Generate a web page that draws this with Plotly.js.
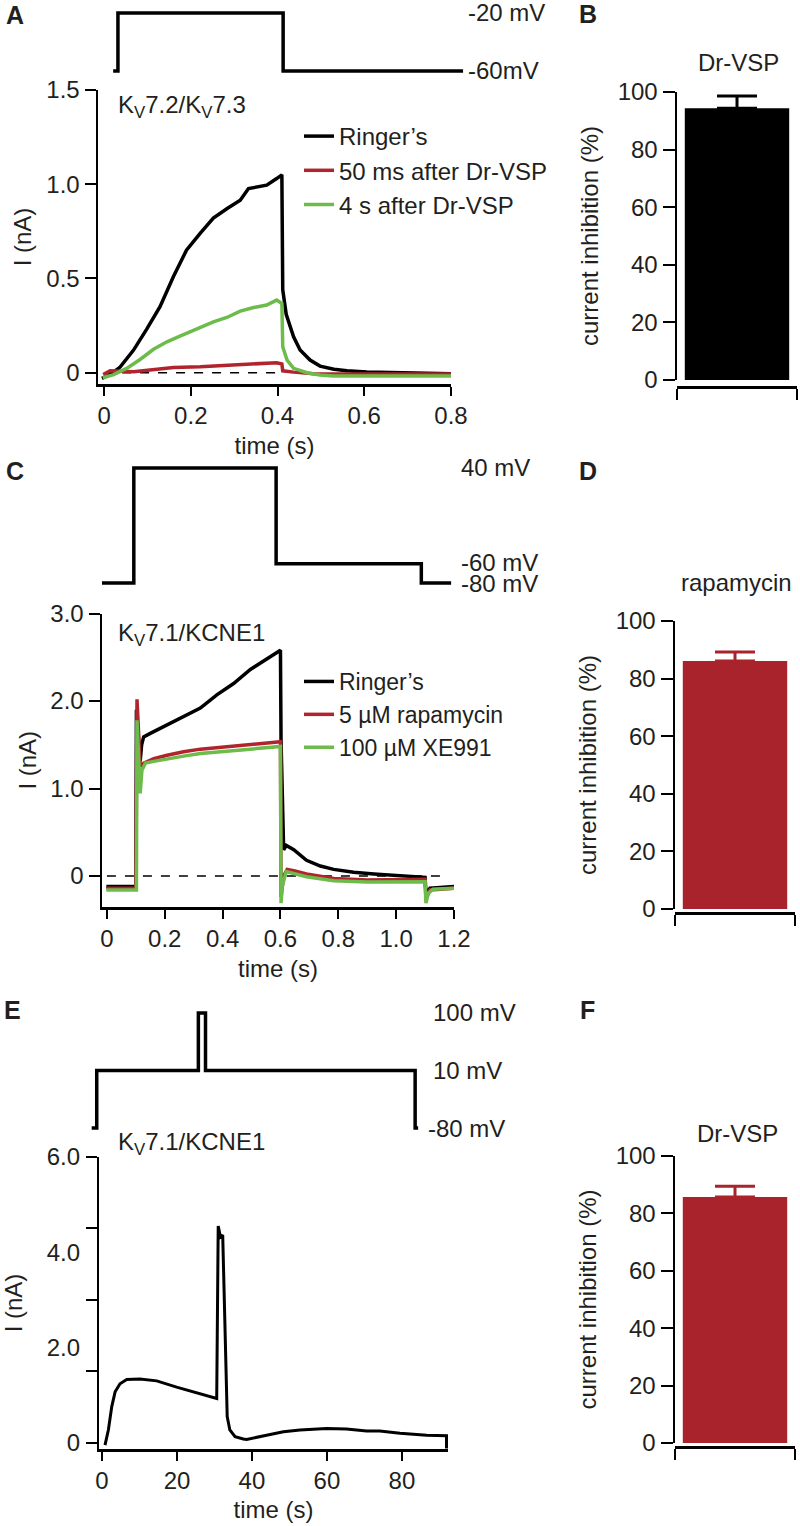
<!DOCTYPE html>
<html>
<head>
<meta charset="utf-8">
<script src="https://cdn.plot.ly/plotly-3.0.1.min.js"></script>
<style>html,body{margin:0;padding:0;background:#fff;}#chart{width:800px;height:1526px;}</style>
</head>
<body>
<div id="chart"></div>
<script>
// ---------------- DATA ----------------
// Panel A: Kv7.2/Kv7.3 currents (time s, current nA)
const A_ringer_t = [-0.005,0.014,0.037,0.068,0.098,0.129,0.16,0.19,0.222,0.252,0.283,0.314,0.333,0.36,0.375,0.398,0.41,0.412,0.42,0.437,0.452,0.475,0.498,0.53,0.56,0.606,0.7,0.8];
const A_ringer_i = [-0.03,-0.01,0.03,0.12,0.23,0.35,0.51,0.65,0.74,0.82,0.87,0.915,0.977,0.986,0.995,1.03,1.05,0.44,0.31,0.19,0.12,0.067,0.035,0.018,0.01,0.004,0.0,-0.005];
const A_50ms_t = [-0.002,0.014,0.068,0.114,0.16,0.222,0.3,0.36,0.398,0.41,0.412,0.437,0.49,0.6,0.8];
const A_50ms_i = [-0.01,0.01,0.005,0.018,0.028,0.032,0.04,0.046,0.053,0.046,0.01,0.003,-0.007,-0.007,-0.007];
const A_4s_t = [-0.003,0.022,0.052,0.083,0.114,0.145,0.175,0.206,0.229,0.252,0.283,0.314,0.345,0.375,0.398,0.41,0.412,0.422,0.437,0.468,0.498,0.529,0.7,0.8];
const A_4s_i = [-0.027,-0.01,0.023,0.07,0.124,0.164,0.194,0.226,0.25,0.27,0.293,0.327,0.346,0.359,0.385,0.367,0.138,0.067,0.023,0.0,-0.012,-0.018,-0.018,-0.018];
const A_zero_t = [0, 0.4];
const A_zero_i = [0, 0];
const A_protocol_t = [0.021,0.032,0.032,0.413,0.413,0.828];
const A_protocol_mV = [-60,-60,-20,-20,-60,-60];

// Panel C: Kv7.1/KCNE1 currents
const C_ringer_t = [-0.002,0.1,0.102,0.108,0.115,0.12,0.127,0.15,0.208,0.265,0.323,0.38,0.438,0.496,0.554,0.6,0.602,0.611,0.62,0.646,0.69,0.738,0.784,0.853,0.923,0.992,1.1,1.103,1.117,1.2];
const C_ringer_i = [-0.12,-0.12,1.9,1.6,1.31,1.5,1.59,1.63,1.73,1.82,1.92,2.07,2.2,2.36,2.48,2.58,1.55,0.3,0.35,0.3,0.18,0.114,0.076,0.042,0.023,0.008,-0.015,-0.2,-0.14,-0.12];
const C_rapa_t = [-0.002,0.1,0.104,0.115,0.127,0.162,0.208,0.265,0.323,0.438,0.554,0.6,0.602,0.611,0.623,0.646,0.69,0.784,0.9,1.1,1.103,1.117,1.2];
const C_rapa_i = [-0.14,-0.14,2.02,1.25,1.29,1.34,1.38,1.42,1.45,1.48,1.52,1.535,-0.24,0.0,0.076,0.06,0.023,-0.027,-0.046,-0.038,-0.26,-0.16,-0.14];
const C_xe_t = [-0.002,0.102,0.104,0.115,0.121,0.133,0.162,0.208,0.265,0.323,0.438,0.554,0.6,0.602,0.606,0.62,0.646,0.69,0.784,0.9,1.1,1.103,1.111,1.127,1.2];
const C_xe_i = [-0.16,-0.16,1.78,0.945,1.21,1.29,1.31,1.34,1.37,1.4,1.43,1.46,1.48,-0.31,-0.12,0.05,0.03,-0.008,-0.053,-0.069,-0.065,-0.31,-0.2,-0.15,-0.14];
const C_zero_t = [0, 1.18];
const C_zero_i = [0, 0];
const C_protocol_t = [-0.017,0.093,0.093,0.585,0.585,1.087,1.087,1.19];
const C_protocol_mV = [-80,-80,40,40,-60,-60,-80,-80];

// Panel E: Kv7.1/KCNE1 long recording
const E_t = [0.8,1.7,2.6,3.5,4.8,6.6,10.1,14.6,19.9,25.2,29.7,30.6,31.0,31.6,32.2,32.9,33.4,34.1,35.5,37.7,38.6,43.9,48.4,52.8,59.9,65.2,70.6,74.1,79.5,86.6,91.9,91.9];
const E_i = [-0.05,0.27,0.76,1.07,1.24,1.33,1.34,1.30,1.17,1.05,0.95,0.93,4.55,4.32,4.36,2.15,0.55,0.27,0.13,0.08,0.07,0.16,0.23,0.27,0.30,0.29,0.25,0.25,0.20,0.16,0.15,-0.12];
const E_protocol_t = [-2.75,-1.4,-1.4,25.7,25.7,27.6,27.6,83.5,83.5,84.3];
const E_protocol_mV = [-80,-80,10,10,100,100,10,10,-80,-80];

// Bar panels: current inhibition (%)
const B_category = ['Dr-VSP'];
const B_value = [94.4];
const B_error = [4.2];
const D_category = ['rapamycin'];
const D_value = [86.1];
const D_error = [3.1];
const F_category = ['Dr-VSP'];
const F_value = [85.7];
const F_error = [3.8];

// Tick labels
const A_xticks = [0,0.2,0.4,0.6,0.8], A_xlabels = ['0','0.2','0.4','0.6','0.8'];
const A_yticks = [0,0.5,1.0,1.5], A_ylabels = ['0','0.5','1.0','1.5'];
const C_xticks = [0,0.2,0.4,0.6,0.8,1.0,1.2], C_xlabels = ['0','0.2','0.4','0.6','0.8','1.0','1.2'];
const C_yticks = [0,1,2,3], C_ylabels = ['0','1.0','2.0','3.0'];
const E_xticks = [0,20,40,60,80], E_xlabels = ['0','20','40','60','80'];
const E_ytickmarks = [0,1.5,3,4.5,6];
const E_yticks = [0,2,4,6], E_ylabels = ['0','2.0','4.0','6.0'];
const bar_yticks = [0,20,40,60,80,100], bar_ylabels = ['0','20','40','60','80','100'];

// ---------------- STYLE ----------------
const W = 800, H = 1526;
const FONT = 'Liberation Sans, Arial, Helvetica, sans-serif';
const TXT = '#231f20';
const BLACK = '#000000', RED = '#b0252d', GREEN = '#6cbb4b', BARRED = '#a8232b';
const px = v => v / W;
const py = v => 1 - v / H;
const tf = {family: FONT, size: 24, color: TXT};

function xAx(d0, d1, range, tv, tt, extra) {
  const a = {domain: [px(d0), px(d1)], range: range, tickmode: 'array', tickvals: tv,
    ticks: 'outside', ticklen: 9, tickwidth: 2, tickcolor: '#000', showline: true, linecolor: '#000', linewidth: 2.5,
    showgrid: false, zeroline: false, tickfont: tf, fixedrange: true};
  if (tt) a.ticktext = tt;
  return Object.assign(a, extra || {});
}
function yAx(top, bottom, range, tv, tt, extra) {
  const a = {domain: [py(bottom), py(top)], range: range, tickmode: 'array', tickvals: tv,
    ticks: 'outside', ticklen: 11, tickwidth: 2, tickcolor: '#000', showline: true, linecolor: '#000', linewidth: 2.5,
    showgrid: false, zeroline: false, tickfont: tf, fixedrange: true};
  if (tt) a.ticktext = tt;
  return Object.assign(a, extra || {});
}
function hidden(d0, d1, range, horiz) {
  return {domain: horiz ? [px(d0), px(d1)] : [py(d1), py(d0)], range: range, visible: false, fixedrange: true};
}
function line(x, y, xa, ya, color, width, name, legend, dash) {
  return {type: 'scatter', mode: 'lines', x: x, y: y, xaxis: xa, yaxis: ya, name: name || '',
    showlegend: !!name, legend: legend || 'legend', hoverinfo: 'skip',
    line: {color: color, width: width, dash: dash || 'solid'}};
}
function bar(cat, val, err, xa, ya, color) {
  return {type: 'bar', x: cat, y: val, xaxis: xa, yaxis: ya, width: [0.87], showlegend: false, hoverinfo: 'skip',
    marker: {color: color, line: {width: 0}},
    error_y: {type: 'data', array: err, arrayminus: [0], symmetric: false, color: color, thickness: 3, width: 20}};
}

const data = [
  // A
  line(A_zero_t, A_zero_i, 'x', 'y', '#000', 1.5, null, null, 'dash'),
  line(A_ringer_t, A_ringer_i, 'x', 'y', BLACK, 3.5, 'Ringer\u2019s', 'legend'),
  line(A_50ms_t, A_50ms_i, 'x', 'y', RED, 3.5, '50 ms after Dr-VSP', 'legend'),
  line(A_4s_t, A_4s_i, 'x', 'y', GREEN, 3.5, '4 s after Dr-VSP', 'legend'),
  line(A_protocol_t, A_protocol_mV, 'x2', 'y2', '#000', 3.5),
  // B
  bar(B_category, B_value, B_error, 'x3', 'y3', BLACK),
  // C
  line(C_zero_t, C_zero_i, 'x4', 'y4', '#000', 1.5, null, null, 'dash'),
  line(C_ringer_t, C_ringer_i, 'x4', 'y4', BLACK, 3.5, 'Ringer\u2019s', 'legend2'),
  line(C_rapa_t, C_rapa_i, 'x4', 'y4', RED, 3.5, '5 \u00b5M rapamycin', 'legend2'),
  line(C_xe_t, C_xe_i, 'x4', 'y4', GREEN, 3.5, '100 \u00b5M XE991', 'legend2'),
  line(C_protocol_t, C_protocol_mV, 'x5', 'y5', '#000', 3.5),
  // D
  bar(D_category, D_value, D_error, 'x6', 'y6', BARRED),
  // E
  line(E_t, E_i, 'x7', 'y7', BLACK, 3),
  {type: 'scatter', mode: 'lines', x: [], y: [], xaxis: 'x7', yaxis: 'y10', showlegend: false, hoverinfo: 'skip'},
  line(E_protocol_t, E_protocol_mV, 'x8', 'y8', '#000', 3.5),
  // F
  bar(F_category, F_value, F_error, 'x9', 'y9', BARRED)
];

const ytitle = (t, s) => ({text: t, font: tf, standoff: s});
const xtitle = (t, s) => ({text: t, font: tf, standoff: s});

const layout = {
  width: W, height: H, margin: {l: 0, r: 0, t: 0, b: 0, pad: 0},
  paper_bgcolor: '#fff', plot_bgcolor: 'rgba(0,0,0,0)',
  font: {family: FONT, size: 24, color: TXT},
  showlegend: true,
  // A
  xaxis: xAx(98, 451, [-0.014, 0.8], A_xticks, A_xlabels, {anchor: 'y', title: xtitle('time (s)', 9)}),
  yaxis: yAx(90, 384, [-0.06, 1.5], A_yticks, A_ylabels, {anchor: 'x', title: ytitle('I (nA)', 8)}),
  xaxis2: hidden(98, 470, [-0.014, 0.844], true),
  yaxis2: Object.assign(hidden(8, 76, [-63.45, -16.55], false), {anchor: 'x2'}),
  // B
  xaxis3: xAx(677, 797, [-0.5, 0.5], [-0.5, 0.5], null, {type: 'category', anchor: 'free', position: py(387), ticklen: 11, showticklabels: false}),
  yaxis3: yAx(92, 380, [0, 100], bar_yticks, bar_ylabels, {anchor: 'x3', ticklen: 12, title: ytitle('current inhibition (%)', 13)}),
  // C
  xaxis4: xAx(102, 454, [-0.017, 1.2], C_xticks, C_xlabels, {anchor: 'y4', title: xtitle('time (s)', 9)}),
  yaxis4: yAx(613.5, 907, [-0.354, 3.0], C_yticks, C_ylabels, {anchor: 'x4', title: ytitle('I (nA)', 7)}),
  xaxis5: hidden(102, 454, [-0.017, 1.2], true),
  yaxis5: Object.assign(hidden(460, 590, [-87.3, 48.35], false), {anchor: 'x5'}),
  // D
  xaxis6: xAx(675, 795, [-0.5, 0.5], [-0.5, 0.5], null, {type: 'category', anchor: 'free', position: py(913), ticklen: 11, showticklabels: false}),
  yaxis6: yAx(621, 909, [0, 100], bar_yticks, bar_ylabels, {anchor: 'x6', ticklen: 12, title: ytitle('current inhibition (%)', 13)}),
  // E
  xaxis7: xAx(99, 448, [-0.8, 92.3], E_xticks, E_xlabels, {anchor: 'y7', title: xtitle('time (s)', 8)}),
  yaxis7: yAx(1157, 1449, [-0.13, 6], E_ytickmarks, null, {anchor: 'x7', showticklabels: false}),
  yaxis10: yAx(1157, 1449, [-0.13, 6], E_yticks, E_ylabels, {anchor: 'x7', overlaying: 'y7', side: 'left', showline: false, ticks: '', ticklabelstandoff: 18, title: ytitle('I (nA)', 22)}),
  xaxis8: hidden(88, 422, [-3.73, 85.33], true),
  yaxis8: Object.assign(hidden(1005, 1136, [-92.5, 112.5], false), {anchor: 'x8'}),
  // F
  xaxis9: xAx(675, 795, [-0.5, 0.5], [-0.5, 0.5], null, {type: 'category', anchor: 'free', position: py(1447), ticklen: 11, showticklabels: false}),
  yaxis9: yAx(1156, 1443, [0, 100], bar_yticks, bar_ylabels, {anchor: 'x9', ticklen: 12, title: ytitle('current inhibition (%)', 13)}),

  legend: {x: px(299), y: py(114), xanchor: 'left', yanchor: 'top', bgcolor: 'rgba(0,0,0,0)', borderwidth: 0,
    font: tf, itemwidth: 30, tracegroupgap: 0, traceorder: 'normal'},
  legend2: {x: px(299), y: py(660), xanchor: 'left', yanchor: 'top', bgcolor: 'rgba(0,0,0,0)', borderwidth: 0,
    font: {family: FONT, size: 23, color: TXT}, itemwidth: 30, tracegroupgap: 0, traceorder: 'normal'},

  annotations: []
};

const bold = {family: FONT, size: 25, color: TXT, weight: 'bold'};
function note(text, x, y, opts) {
  layout.annotations.push(Object.assign({text: text, x: x, y: y, xref: 'paper', yref: 'paper', showarrow: false,
    xanchor: 'left', yanchor: 'middle', font: tf}, opts || {}));
}
// panel letters
note('<b>A</b>', px(4), py(15), {font: bold});
note('<b>B</b>', px(577), py(14), {font: bold});
note('<b>C</b>', px(4), py(471), {font: bold});
note('<b>D</b>', px(577), py(471), {font: bold});
note('<b>E</b>', px(2), py(1010), {font: bold});
note('<b>F</b>', px(578), py(1010), {font: bold});
// protocol labels (y in mV data units)
note('-20 mV', px(466), -20, {yref: 'y2'});
note('-60mV', px(466), -60, {yref: 'y2'});
note('40 mV', px(459), 40, {yref: 'y5'});
note('-60 mV', px(459), -59, {yref: 'y5'});
note('-80 mV', px(459), -81, {yref: 'y5'});
note('100 mV', px(431), 100, {yref: 'y8'});
note('10 mV', px(431), 10, {yref: 'y8'});
note('-80 mV', px(426), -80, {yref: 'y8'});
// construct labels
note('K<sub>V</sub>7.2/K<sub>V</sub>7.3', px(116), py(107));
note('K<sub>V</sub>7.1/KCNE1', px(116), py(634));
note('K<sub>V</sub>7.1/KCNE1', px(116), py(1143));
// bar titles
note('Dr-VSP', px(738), py(63), {xanchor: 'center'});
note('rapamycin', px(736), py(582), {xanchor: 'center'});
note('Dr-VSP', px(737), py(1133), {xanchor: 'center'});

Plotly.newPlot('chart', data, layout, {staticPlot: true, displayModeBar: false});
</script>
</body>
</html>
